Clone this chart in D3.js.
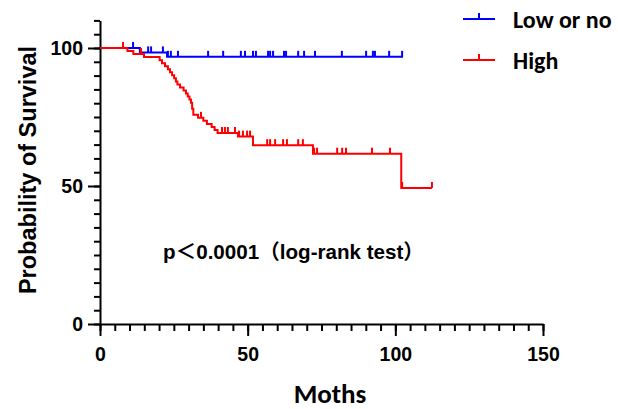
<!DOCTYPE html>
<html>
<head>
<meta charset="utf-8">
<script src="https://cdn.jsdelivr.net/npm/d3@7"></script>
<style>
    body { margin: 0; background: #fff; }
    svg { display: block; }
</style>
</head>
<body>
<svg id="km-plot"></svg>
<script>
// Survival steps (months, % surviving after the step)
const lowTimes = [0, 13.5, 22.7];
const lowSurv = [100, 98.4, 96.8];
const lowEnd = 102.6;
const lowCensor = [11.2, 16.3, 17.3, 21.3, 23.0, 24.0, 26.4, 36.6, 41.7, 47.7, 49.1, 51.8, 52.8,
    56.9, 57.6, 58.6, 62.3, 63.0, 67.1, 69.1, 72.8, 81.9, 90.1, 92.4, 93.1, 97.9, 102.3];

const highTimes = [0, 9.3, 11.3, 14.9, 20.2, 21.0, 22.0, 23.0, 23.7, 24.4, 25.1, 25.7, 26.2, 27.1,
    28.3, 29.1, 29.7, 30.3, 30.8, 31.2, 31.6, 33.2, 35.0, 36.2, 37.8, 38.8, 39.8, 46.7, 51.8, 72.1, 102.0];
const highSurv = [100, 98.9, 97.8, 96.7, 95.6, 94.5, 93.4, 92.3, 91.2, 90.1, 89.0, 87.9, 86.8, 85.7,
    84.6, 83.5, 82.4, 81.3, 80.2, 78.0, 75.8, 74.7, 73.6, 72.5, 71.4, 70.3, 69.2, 67.9, 64.8, 61.7, 49.3];
const highEnd = 112.4;
const highCensor = [7.8, 13.9, 34.2, 41.3, 42.3, 43.3, 45.7, 47.1, 48.4, 49.8, 50.8, 56.6, 57.6, 59.3,
    62.0, 63.3, 67.1, 68.7, 72.5, 73.5, 80.3, 82.0, 83.3, 92.1, 98.2, 102.3, 112.4];

const groupNames = ["Low or no", "High"];
const groupColors = ["#0000ff", "#ff0000"];

const xMajor = [0, 50, 100, 150];
const yMajor = [0, 50, 100];

const W = 618, H = 409;
const svg = d3.select("#km-plot").attr("width", W).attr("height", H);

const xScale = d3.scaleLinear().domain([0, 150]).range([100, 543]);
const yScale = d3.scaleLinear().domain([0, 110]).range([324, 20.4]);

const tickFont = "'Liberation Sans', Arial, sans-serif";
const titleFont = "Carlito, Lato, sans-serif";

//Minor ticks every 5
svg.append("g")
    .attr("transform", "translate(0,324)")
    .call(d3.axisBottom(xScale).tickValues(d3.range(0, 151, 5)).tickSize(7).tickSizeOuter(0).tickFormat(""))
    .call(g => g.select(".domain").remove());
svg.append("g")
    .attr("transform", "translate(100,0)")
    .call(d3.axisLeft(yScale).tickValues(d3.range(0, 111, 5)).tickSize(6).tickSizeOuter(0).tickFormat(""))
    .call(g => g.select(".domain").remove());

//Major axes
let xAxis = svg.append("g")
    .attr("transform", "translate(0,324)")
    .call(d3.axisBottom(xScale).tickValues(xMajor).tickSize(12).tickSizeOuter(0).tickPadding(11));
let yAxis = svg.append("g")
    .attr("transform", "translate(100,0)")
    .call(d3.axisLeft(yScale).tickValues(yMajor).tickSize(12).tickSizeOuter(0).tickPadding(5));

svg.selectAll(".tick line, .domain")
    .attr("stroke", "#000")
    .attr("stroke-width", 2);
svg.selectAll(".tick text")
    .attr("fill", "#000")
    .style("font-family", tickFont)
    .style("font-weight", "bold")
    .style("font-size", "19.5px");

//Axis titles
svg.append("text")
    .attr("transform", "translate(36,170) rotate(-90)")
    .attr("text-anchor", "middle")
    .style("font-family", tickFont)
    .style("font-weight", "bold")
    .style("font-size", "23.5px")
    .text("Probability of Survival");

svg.append("text")
    .attr("x", 330)
    .attr("y", 403)
    .attr("text-anchor", "middle")
    .style("font-family", titleFont)
    .style("font-weight", "bold")
    .style("font-size", "27px")
    .text("Moths");

svg.append("text")
    .attr("x", 163)
    .attr("y", 259)
    .style("font-family", tickFont + ", 'Noto Sans CJK SC'")
    .style("font-weight", "bold")
    .style("font-size", "20.6px")
    .text("p＜0.0001（log-rank test）");

//Curves
function survAt(times, surv, t)
{
    let i = d3.bisectRight(times, t) - 1;
    return surv[Math.max(i, 0)];
}

let groups = [
    {times: lowTimes, surv: lowSurv, end: lowEnd, censor: lowCensor},
    {times: highTimes, surv: highSurv, end: highEnd, censor: highCensor}
];

let stepLine = d3.line()
    .x(d => xScale(d[0]))
    .y(d => yScale(d[1]))
    .curve(d3.curveStepAfter);

groups.forEach((grp, k) => {
    let pts = grp.times.map((t, i) => [t, grp.surv[i]]);
    pts.push([grp.end, grp.surv[grp.surv.length - 1]]);

    let g = svg.append("g");
    g.append("path")
        .attr("d", stepLine(pts))
        .attr("fill", "none")
        .attr("stroke", groupColors[k])
        .attr("stroke-width", 2);

    g.selectAll("line")
        .data(grp.censor)
        .enter().append("line")
        .attr("x1", d => xScale(d))
        .attr("x2", d => xScale(d))
        .attr("y1", d => yScale(survAt(grp.times, grp.surv, d)))
        .attr("y2", d => yScale(survAt(grp.times, grp.surv, d)) - 6)
        .attr("stroke", groupColors[k])
        .attr("stroke-width", 2);
});

//Legend
let legendY = [19, 60];
let legend = svg.selectAll(".legend")
    .data(groupNames)
    .enter().append("g")
    .attr("class", "legend")
    .attr("transform", (d, i) => "translate(463," + legendY[i] + ")");

legend.append("line")
    .attr("x1", 0).attr("x2", 32)
    .attr("stroke", (d, i) => groupColors[i])
    .attr("stroke-width", 2);
legend.append("line")
    .attr("x1", 16).attr("x2", 16)
    .attr("y1", 0).attr("y2", -6)
    .attr("stroke", (d, i) => groupColors[i])
    .attr("stroke-width", 2);
legend.append("text")
    .attr("x", 50)
    .attr("y", 9)
    .style("font-family", titleFont)
    .style("font-weight", "bold")
    .style("font-size", "24px")
    .text(d => d);
</script>
</body>
</html>
